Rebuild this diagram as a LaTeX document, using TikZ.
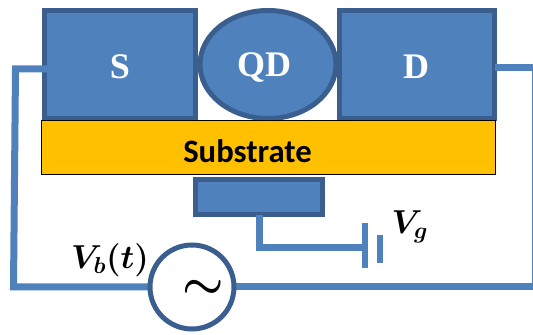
\documentclass[tikz,border=0pt]{standalone}
\usepackage{amsmath}
\usepackage{fontspec}
\usetikzlibrary{shapes.geometric}
\setmainfont{Liberation Serif}
\newfontfamily\subfont{Carlito}
\definecolor{boxblue}{HTML}{4F81BD}
\definecolor{edgeblue}{HTML}{3A5F8F}
\definecolor{subyellow}{HTML}{FFC000}

\begin{document}
\begin{tikzpicture}[
                x=.75pt,y=-.75pt,
                inner sep=0pt,outer sep=0pt,
                device/.style={draw=edgeblue,fill=boxblue,line width=3.75pt},
                devlabel/.style={white,font=\fontsize{27}{27}\selectfont\bfseries},
                wire/.style={draw=boxblue,line width=5.25pt},
                plate/.style={fill=boxblue,minimum width=4.5pt}]

\useasboundingbox (0,0) rectangle (533,335);

                    % contacts
                    \node[device,minimum width=113.25pt,minimum height=81pt] (S) at (120,64.5) {};
                    \node[device,minimum width=116.25pt,minimum height=81pt] (D) at (417,64.5) {};
                    \node[device,ellipse,minimum width=102pt,minimum height=81pt] (QD) at (268,64.5) {};

                    \node[devlabel] (Slabel) at (120,67) {S};
                    \node[devlabel] (QDlabel) at (264,68) {QD};
                    \node[devlabel] (Dlabel) at (416,67) {D};

                    % substrate
                    \node[draw=black,fill=subyellow,line width=.75pt,minimum width=340.5pt,minimum height=40.5pt] (SUB) at (268.25,148) {};
                    \node[font=\subfont\fontsize{24.5}{24.5}\selectfont\bfseries] (SUBlabel) at (247.5,151) {Substrate};

                    % gate
                    \node[device,minimum width=95.25pt,minimum height=26.25pt] (GATE) at (259,197) {};

                    % battery
                    \node[plate,minimum height=33.75pt] (VA) at (364.5,245.5) {};
                    \node[plate,minimum height=21pt] (VB) at (379.5,249) {};
                    \coordinate (GT) at (259,215);
                    \coordinate (GC) at (259,248);
                    \draw[wire] (GT) -- (GC) -- (VA.west |- GC);
                    \node[font=\fontsize{23}{23}\selectfont] (VG) at (410,227) {{\boldmath$V_g$}};

                    % source and circuit
                    \coordinate (SW) at (60,69);
                    \coordinate (SC) at (15.5,69);
                    \coordinate (BC) at (13.5,287);
                    \coordinate (DE) at (495,67.5);
                    \coordinate (DC) at (535,67.5);
                    \coordinate (RC) at (535,287);
                    \draw[wire] (SW) -- (SC) -- (BC) -- (192,287);
                    \draw[wire] (DE) -- (DC) -- (RC) -- (192,287);
                    \node[circle,draw=edgeblue,fill=white,line width=3.75pt,minimum size=63pt] (AC) at (192,287) {};
                    \node[font=\fontsize{24}{24}\selectfont] (ACsym) at (203,289) {\scalebox{1.4}{{\boldmath$\sim$}}};
                    \node[font=\fontsize{23}{23}\selectfont] (VBT) at (110,260) {{\boldmath$V_b(t)$}};

\end{tikzpicture}
\end{document}
